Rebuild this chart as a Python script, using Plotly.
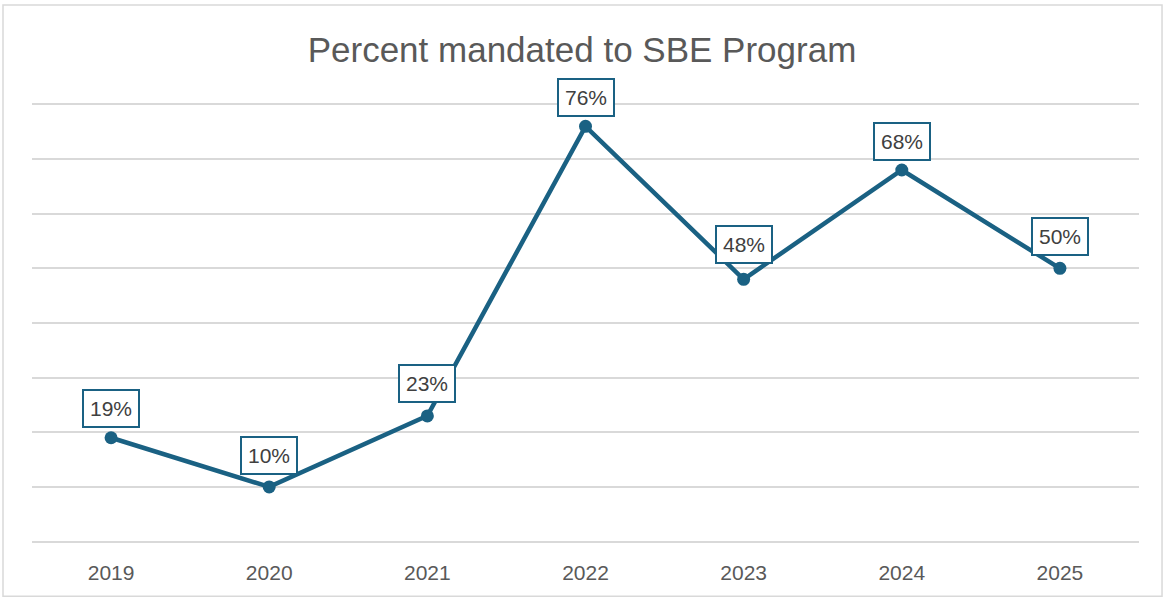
import plotly.graph_objects as go

years = ["2019", "2020", "2021", "2022", "2023", "2024", "2025"]
percent = [19, 10, 23, 76, 48, 68, 50]
title_text = "Percent mandated to SBE Program"

line_color = "#1a6183"
label_shift = [29, 31, 32, 29, 35, 29, 32]

fig = go.Figure()
fig.add_trace(go.Scatter(
    x=years, y=percent, mode="lines+markers",
    line=dict(color=line_color, width=4.5),
    marker=dict(color=line_color, size=13),
    hoverinfo="skip", showlegend=False,
))

for i, (v, s) in enumerate(zip(percent, label_shift)):
    fig.add_annotation(
        x=i, y=v, xref="x", yref="y", text=f"{v}%", showarrow=False, yshift=s,
        font=dict(family="Liberation Sans, Arial, sans-serif", size=21, color="#404040"),
        bgcolor="white", bordercolor=line_color, borderwidth=2, borderpad=6,
    )

fig.add_shape(type="rect", xref="paper", yref="paper",
              x0=-0.0262, x1=1.0208, y0=-0.11, y1=1.21,
              line=dict(color="#d9d9d9", width=1.5), layer="below")

fig.update_layout(
    width=1164, height=599,
    margin=dict(l=32, r=25, t=99, b=52),
    paper_bgcolor="white", plot_bgcolor="white",
    title=dict(text=title_text, x=0.5, xanchor="center", y=0.917, yanchor="middle",
               font=dict(family="Liberation Sans, Arial, sans-serif", size=35, color="#595959")),
    xaxis=dict(type="category", range=[-0.5, 6.5], showgrid=False, showline=False,
               ticks="", tickfont=dict(family="Liberation Sans, Arial, sans-serif", size=21, color="#595959"),
               ticklabelstandoff=11),
    yaxis=dict(range=[-1, 81], tickvals=[0, 10, 20, 30, 40, 50, 60, 70, 80],
               showticklabels=False, showgrid=True,
               gridcolor="#d9d9d9", gridwidth=2, zeroline=False, showline=False, ticks=""),
)

fig.write_html("out.html", config={"displayModeBar": False},
               post_script="document.body.style.margin='0';")
